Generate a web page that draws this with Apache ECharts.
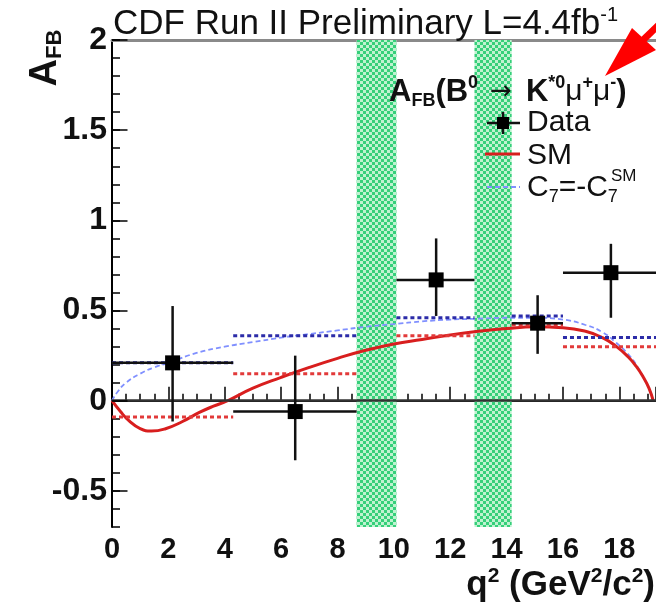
<!DOCTYPE html>
<html>
<head>
<meta charset="utf-8">
<title>A_FB CDF</title>
<script src="https://cdn.jsdelivr.net/npm/echarts@6.0.0/dist/echarts.min.js"></script>
<style>html,body{margin:0;padding:0;background:#fff}#chart{width:656px;height:608px}</style>
</head>
<body>
<div id="chart"></div>
<script>
// q^2 bins
const binLo = [0, 4.3, 10.09, 14.18, 16.0];
const binHi = [4.3, 8.68, 12.86, 16.0, 19.3];
// measured A_FB
const dataX = [2.15, 6.5, 11.5, 15.1, 17.7];
const dataY = [0.21, -0.06, 0.67, 0.43, 0.71];
const errUp = [0.315, 0.31, 0.23, 0.155, 0.16];
const errDown = [0.325, 0.27, 0.2, 0.17, 0.25];
// bin averaged predictions
const smBin = [-0.09, 0.15, 0.36, 0.42, 0.3];
const flipBin = [0.21, 0.36, 0.46, 0.47, 0.35];
// theory curves
const smX = [0, 0.3, 0.6, 1.0, 1.4, 1.9, 2.5, 3.1, 3.6, 4.1, 5.0, 6.0, 7.0, 8.0, 9.0, 10.0, 11.0, 12.0, 13.0, 14.0, 15.0, 16.0, 16.8, 17.4, 17.9, 18.3, 18.6, 18.85, 19.05, 19.2];
const smY = [0, -0.06, -0.11, -0.155, -0.168, -0.155, -0.115, -0.065, -0.03, 0, 0.07, 0.13, 0.185, 0.235, 0.28, 0.315, 0.34, 0.365, 0.385, 0.4, 0.41, 0.405, 0.385, 0.35, 0.3, 0.245, 0.19, 0.13, 0.07, 0];
const flipX = [0, 0.2, 0.5, 1.0, 1.5, 2.0, 3.0, 4.0, 5.0, 6.0, 7.0, 8.0, 9.0, 10.0, 11.0, 12.0, 13.0, 14.0, 15.0, 16.0, 16.8, 17.4, 17.9, 18.3, 18.6, 18.85, 19.05, 19.2];
const flipY = [0, 0.05, 0.1, 0.15, 0.185, 0.21, 0.265, 0.3, 0.325, 0.35, 0.37, 0.39, 0.41, 0.425, 0.44, 0.45, 0.455, 0.46, 0.46, 0.45, 0.42, 0.38, 0.32, 0.26, 0.2, 0.13, 0.07, 0];
// charmonium veto regions
const vetoLo = [8.68, 12.86];
const vetoHi = [10.09, 14.18];
// y tick labels
const yMajor = [-0.5, 0, 0.5, 1, 1.5, 2];
const yLabels = ['-0.5', '0', '0.5', '1', '1.5', '2'];

const font = "'Liberation Sans', Arial, sans-serif";

// checkered green fill for the vetoed bands
const pat = document.createElement('canvas');
pat.width = 6; pat.height = 6;
const g = pat.getContext('2d');
g.fillStyle = '#bff2d0'; g.fillRect(0, 0, 6, 6);
g.fillStyle = '#35d07a';
g.fillRect(0, 0, 3, 3); g.fillRect(3, 3, 3, 3);

const chart = echarts.init(document.getElementById('chart'));

const binSeries = (name, vals, color) => ({
    type: 'custom', name, z: 5, silent: true,
    data: vals.map((v, i) => [binLo[i], binHi[i], v]),
    encode: { x: [0, 1], y: 2 },
    renderItem: (p, api) => {
        const a = api.coord([api.value(0), api.value(2)]);
        const b = api.coord([api.value(1), api.value(2)]);
        return { type: 'line', shape: { x1: a[0], y1: a[1], x2: b[0], y2: b[1] },
            style: { stroke: color, lineWidth: 3, lineDash: [4, 3] } };
    }
});

const txt = (x, y, text, size) => ({
    type: 'text', z: 100, x, y,
    style: { text, fontSize: size, fontFamily: font, fill: '#111', textVerticalAlign: 'middle' }
});

const option = {
    animation: false,
    grid: { left: 112, top: 40, right: 0, bottom: 81, outerBoundsMode: 'none' },
    xAxis: [{
        type: 'value', min: 0, max: 19.3, interval: 2,
        axisLine: { lineStyle: { color: '#000', width: 2 } },
        axisTick: { inside: true, length: 14, lineStyle: { color: '#000', width: 1.5 } },
        minorTick: { show: true, splitNumber: 4, length: 7, lineStyle: { color: '#000', width: 1.5 } },
        axisLabel: {
            margin: 8, fontSize: 29, fontWeight: 'bold', fontFamily: font, color: '#111',
            formatter: v => (Math.abs(v - Math.round(v)) < 1e-6 && Math.round(v) % 2 === 0) ? String(Math.round(v)) : ''
        },
        splitLine: { show: false }
    }, {
        type: 'value', position: 'top', min: 0, max: 19.3,
        axisLine: { show: true, lineStyle: { color: '#8a8a8a', width: 3 } },
        axisTick: { show: false }, axisLabel: { show: false }, splitLine: { show: false }
    }],
    yAxis: {
        type: 'value', min: -0.7, max: 2, interval: 0.1,
        axisLine: { show: true, lineStyle: { color: '#000', width: 2 } },
        axisTick: { inside: true, length: 8, lineStyle: { color: '#000', width: 1.5 } },
        axisLabel: {
            margin: 5, fontSize: 32, fontWeight: 'bold', fontFamily: font, color: '#111',
            formatter: v => {
                const i = yMajor.findIndex(m => Math.abs(m - v) < 1e-6);
                return i < 0 ? '' : yLabels[i];
            }
        },
        splitLine: { show: false }
    },
    series: [
        {
            type: 'line', z: 1, silent: true, data: [[0, 0]], showSymbol: false,
            lineStyle: { opacity: 0 },
            markArea: {
                silent: true,
                itemStyle: { color: { image: pat, repeat: 'repeat' } },
                data: vetoLo.map((lo, i) => [{ xAxis: lo }, { xAxis: vetoHi[i] }])
            },
            markLine: {
                silent: true, symbol: 'none', label: { show: false },
                lineStyle: { color: '#333', width: 2.5, type: 'solid' },
                data: [{ yAxis: 0 }].concat(yMajor.map(v => [
                    { coord: [0, v], lineStyle: { color: '#000', width: 1.5 } },
                    { coord: [0.55, v] }
                ]))
            }
        },
        {
            type: 'line', name: 'C7flip', z: 3, silent: true, showSymbol: false,
            smooth: 0.5,
            data: flipX.map((x, i) => [x, flipY[i]]),
            lineStyle: { color: '#8090ff', width: 1.8, type: [5, 3] }
        },
        {
            type: 'line', name: 'SM', z: 4, silent: true, showSymbol: false,
            smooth: 0.5,
            data: smX.map((x, i) => [x, smY[i]]),
            lineStyle: { color: '#d81e1e', width: 3 }
        },
        binSeries('SM bins', smBin, '#e23a3a'),
        {
            type: 'custom', name: 'Data', z: 6, silent: true,
            data: dataX.map((x, i) => [x, dataY[i], binLo[i], binHi[i], errUp[i], errDown[i]]),
            encode: { x: [0, 2, 3], y: 1 },
            renderItem: (p, api) => {
                const x = api.value(0), y = api.value(1);
                const c = api.coord([x, y]);
                const l = api.coord([api.value(2), y]);
                const r = api.coord([api.value(3), y]);
                const t = api.coord([x, y + api.value(4)]);
                const b = api.coord([x, y - api.value(5)]);
                const s = 15;
                return { type: 'group', children: [
                    { type: 'line', shape: { x1: l[0], y1: l[1], x2: r[0], y2: r[1] }, style: { stroke: '#111', lineWidth: 2.5 } },
                    { type: 'line', shape: { x1: t[0], y1: t[1], x2: b[0], y2: b[1] }, style: { stroke: '#111', lineWidth: 2.5 } },
                    { type: 'rect', shape: { x: c[0] - s / 2, y: c[1] - s / 2, width: s, height: s }, style: { fill: '#000' } }
                ] };
            }
        },
        binSeries('C7 bins', flipBin, '#2c2ca8')
    ],
    graphic: [
        {
            type: 'text', z: 100, x: 113, y: 24,
            style: {
                text: '{t|CDF Run II Preliminary L=4.4fb}{s|-1}',
                textVerticalAlign: 'middle', fill: '#111',
                rich: {
                    t: { fontSize: 35, fontFamily: font, lineHeight: 38 },
                    s: { fontSize: 20, fontFamily: font, verticalAlign: 'top', lineHeight: 38 }
                }
            }
        },
        {
            type: 'text', z: 100, x: 46, y: 58, rotation: Math.PI / 2,
            style: {
                text: '{a|A}{b|FB}', textAlign: 'center', textVerticalAlign: 'middle', fill: '#111',
                rich: {
                    a: { fontSize: 38, fontWeight: 'bold', fontFamily: font, lineHeight: 40 },
                    b: { fontSize: 22, fontWeight: 'bold', fontFamily: font, verticalAlign: 'bottom', lineHeight: 40 }
                }
            }
        },
        {
            type: 'text', z: 100, x: 655, y: 585,
            style: {
                text: '{b|q}{s|2}{b| (GeV}{s|2}{b|/c}{s|2}{b|)}', textAlign: 'right', textVerticalAlign: 'middle', fill: '#111',
                rich: {
                    b: { fontSize: 35, fontWeight: 'bold', fontFamily: font, lineHeight: 38 },
                    s: { fontSize: 21, fontWeight: 'bold', fontFamily: font, verticalAlign: 'top', lineHeight: 38 }
                }
            }
        },
        {
            type: 'text', z: 100, x: 389, y: 92,
            style: {
                text: '{b|A}{bs|FB}{b|(B}{sp|0}{a|\u2192}{b|K}{sp|*0}{m|\u03bc}{sp|+}{m|\u03bc}{sp|-}{b|)}',
                textVerticalAlign: 'middle', fill: '#111',
                rich: {
                    b: { fontSize: 31, fontWeight: 'bold', fontFamily: font, lineHeight: 36 },
                    bs: { fontSize: 18, fontWeight: 'bold', fontFamily: font, verticalAlign: 'bottom', lineHeight: 32 },
                    sp: { fontSize: 18, fontWeight: 'bold', fontFamily: font, verticalAlign: 'top', lineHeight: 36 },
                    a: { fontSize: 26, fontFamily: "'DejaVu Sans', sans-serif", lineHeight: 36, padding: [0, 14, 0, 12] },
                    m: { fontSize: 30, fontFamily: font, lineHeight: 36 }
                }
            }
        },
        { type: 'line', z: 100, shape: { x1: 487, y1: 123, x2: 520, y2: 123 }, style: { stroke: '#111', lineWidth: 2.5 } },
        { type: 'line', z: 100, shape: { x1: 503, y1: 112, x2: 503, y2: 134 }, style: { stroke: '#111', lineWidth: 2.5 } },
        { type: 'rect', z: 100, shape: { x: 497, y: 117, width: 12, height: 12 }, style: { fill: '#000' } },
        { type: 'line', z: 100, shape: { x1: 485, y1: 154, x2: 520, y2: 154 }, style: { stroke: '#d81e1e', lineWidth: 3 } },
        { type: 'line', z: 100, shape: { x1: 487, y1: 187, x2: 520, y2: 187 }, style: { stroke: '#8090ff', lineWidth: 2, lineDash: [5, 3] } },
        txt(527, 123, 'Data', 30),
        txt(527, 156, 'SM', 30),
        {
            type: 'text', z: 100, x: 527, y: 188,
            style: {
                text: '{n|C}{s|7}{n|=-C}{s|7}', textVerticalAlign: 'middle', fill: '#111',
                rich: {
                    n: { fontSize: 30, fontFamily: font, lineHeight: 36 },
                    s: { fontSize: 18, fontFamily: font, verticalAlign: 'bottom', lineHeight: 36 }
                }
            }
        },
        txt(611, 176, 'SM', 17),
        // red pointer arrow
        { type: 'line', z: 100, shape: { x1: 640, y1: 43, x2: 672, y2: 12 }, style: { stroke: '#ff0000', lineWidth: 7 } },
        { type: 'polygon', z: 100, shape: { points: [[605, 76], [632, 28], [656, 50]] }, style: { fill: '#ff0000' } }
    ]
};
chart.setOption(option);
</script>
</body>
</html>
